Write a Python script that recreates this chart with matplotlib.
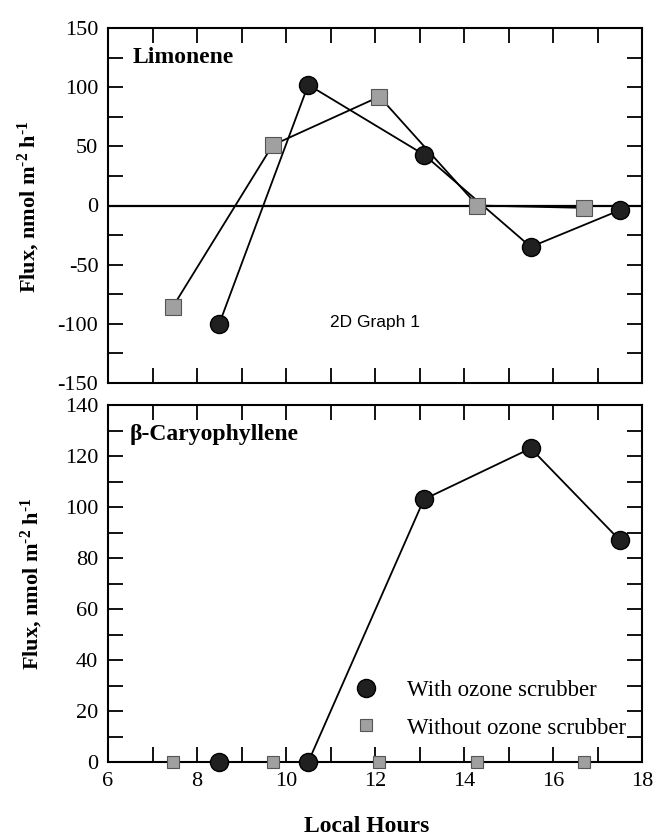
import matplotlib
matplotlib.use("Agg")
import matplotlib.pyplot as plt
from matplotlib.ticker import MultipleLocator

# Data
lim_with_x = [8.5, 10.5, 13.1, 15.5, 17.5]
lim_with_y = [-100, 102, 43, -35, -4]
lim_without_x = [7.45, 9.7, 12.1, 14.3, 16.7]
lim_without_y = [-86, 51, 92, 0, -2]

car_with_x = [8.5, 10.5, 13.1, 15.5, 17.5]
car_with_y = [0, 0, 103, 123, 87]
car_without_x = [7.45, 9.7, 12.1, 14.3, 16.7]
car_without_y = [0, 0, 0, 0, 0]

x_ticks = [6, 8, 10, 12, 14, 16, 18]
lim_yticks = [-150, -100, -50, 0, 50, 100, 150]
car_yticks = [0, 20, 40, 60, 80, 100, 120, 140]

plt.rcParams['font.family'] = ['Liberation Serif', 'DejaVu Serif']
plt.rcParams['axes.unicode_minus'] = False
plt.rcParams['mathtext.fontset'] = 'custom'
plt.rcParams['mathtext.rm'] = 'Liberation Serif'
plt.rcParams['mathtext.bf'] = 'Liberation Serif:bold'
plt.rcParams['mathtext.default'] = 'bf'

fig = plt.figure(figsize=(6.55, 8.35), dpi=100)
W, H = 655, 835
ax1 = fig.add_axes([108/W, 1-383/H, (642-108)/W, (383-28)/H])
ax2 = fig.add_axes([108/W, 1-762/H, (642-108)/W, (762-405)/H])

circ_col = '#202020'
sq_col = '#a0a0a0'

def style(ax):
    ax.xaxis.set_major_locator(MultipleLocator(2))
    ax.xaxis.set_minor_locator(MultipleLocator(1))
    ax.tick_params(which='both', direction='in', top=True, right=True, width=1.3)
    ax.tick_params(which='major', length=11, labelsize=16, pad=7)
    ax.tick_params(which='minor', length=11)
    for s in ax.spines.values():
        s.set_linewidth(1.5)
    ax.set_xlim(6, 18)

ylab = 'Flux, nmol m$^{\u2010 2}$ h$^{\u2010 1}$'

# Top panel
ax1.axhline(0, color='black', lw=1.6, zorder=1)
ax1.plot(lim_without_x, lim_without_y, '-', color='black', lw=1.3, zorder=2)
ax1.plot(lim_without_x, lim_without_y, 's', color=sq_col, mec='#555555', ms=12, mew=0.8, zorder=3)
ax1.plot(lim_with_x, lim_with_y, '-', color='black', lw=1.3, zorder=2)
ax1.plot(lim_with_x, lim_with_y, 'o', color=circ_col, mec='black', ms=13, zorder=4)
style(ax1)
ax1.set_ylim(-150, 150)
ax1.set_yticks(lim_yticks)
ax1.yaxis.set_minor_locator(MultipleLocator(25))
ax1.tick_params(labelbottom=False)
ax1.text(0.047, 0.917, 'Limonene', transform=ax1.transAxes, fontsize=17, fontweight='bold', va='center')
ax1.text(0.415, 0.17, '2D Graph 1', transform=ax1.transAxes, fontsize=12.5,
         family='Liberation Sans', va='center')
ax1.set_ylabel(ylab, fontsize=16, fontweight='bold')
ax1.yaxis.set_label_coords(-0.124, 0.496)

# Bottom panel
ax2.plot(car_with_x, car_with_y, '-', color='black', lw=1.3, zorder=2)
ax2.plot(car_with_x, car_with_y, 'o', color=circ_col, mec='black', ms=13, zorder=4,
         clip_on=False, label='With ozone scrubber')
ax2.plot(car_without_x, car_without_y, 's', color=sq_col, mec='#555555', ms=8, mew=0.8, zorder=3,
         clip_on=False, label='Without ozone scrubber')
style(ax2)
ax2.set_ylim(0, 140)
ax2.set_yticks(car_yticks)
ax2.yaxis.set_minor_locator(MultipleLocator(10))
ax2.set_xticks(x_ticks)
ax2.text(0.041, 0.918, '\u03b2-Caryophyllene', transform=ax2.transAxes, fontsize=17, fontweight='bold', va='center')
ax2.set_ylabel(ylab, fontsize=16, fontweight='bold')
ax2.yaxis.set_label_coords(-0.118, 0.50)
ax2.set_xlabel('Local Hours', fontsize=17, fontweight='bold')
ax2.xaxis.set_label_coords(0.485, -0.150)
leg = ax2.legend(loc='lower right', bbox_to_anchor=(1.009, 0.008), frameon=False, fontsize=16.5,
                 handletextpad=1.2, labelspacing=0.71, handlelength=1.2)

fig.savefig('out.png', dpi=100)
